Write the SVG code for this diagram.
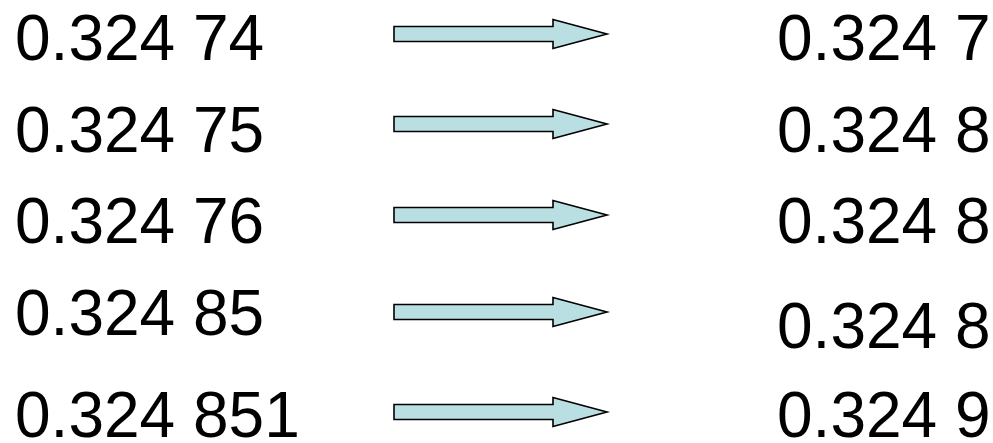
<svg xmlns="http://www.w3.org/2000/svg" width="993" height="443" viewBox="0 0 993 443">
<style>
.t{font-family:"Liberation Sans",Arial,sans-serif;font-size:64px;fill:#000}
.a{fill:#b9dfe2;stroke:#000;stroke-width:1.6;stroke-linejoin:miter}
</style>
<defs>
<path id="arr" class="a" d="M394,-7.5 H553 V-14.5 L607,0 L553,14.5 V7.5 H394 Z"/>
</defs>
<rect width="993" height="443" fill="#fff"/>
<g id="connectors">
<use href="#arr" transform="translate(0,34)"/>
<use href="#arr" transform="translate(0,124)"/>
<use href="#arr" transform="translate(0,215)"/>
<use href="#arr" transform="translate(0,312)"/>
<use href="#arr" transform="translate(0,412)"/>
</g>
<g id="left1"><text class="t" x="15" y="60">0.324 74</text></g>
<g id="left2"><text class="t" x="15" y="152">0.324 75</text></g>
<g id="left3"><text class="t" x="15" y="243">0.324 76</text></g>
<g id="left4"><text class="t" x="15" y="335">0.324 85</text></g>
<g id="left5"><text class="t" x="15" y="437">0.324 851</text></g>
<g id="right1"><text class="t" x="777" y="60">0.324 7</text></g>
<g id="right2"><text class="t" x="777" y="152">0.324 8</text></g>
<g id="right3"><text class="t" x="777" y="243">0.324 8</text></g>
<g id="right4"><text class="t" x="777" y="348">0.324 8</text></g>
<g id="right5"><text class="t" x="777" y="437">0.324 9</text></g>
</svg>
